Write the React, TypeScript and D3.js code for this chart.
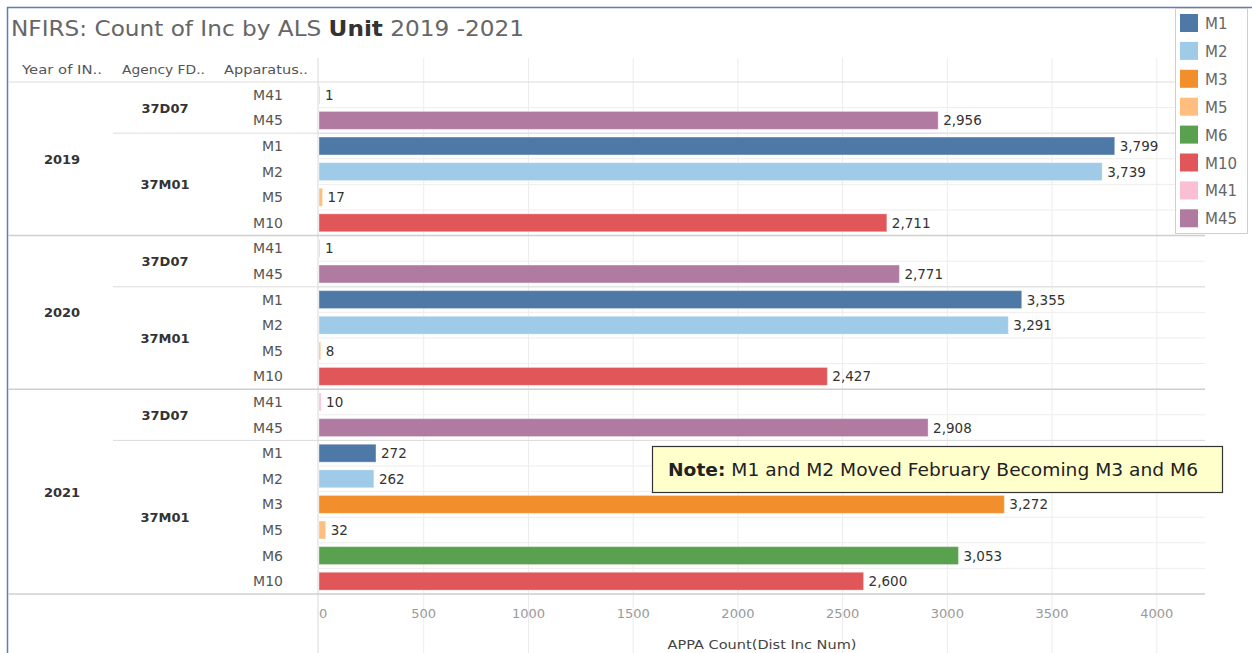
import React from "react";
import * as d3 from "d3";

// rows in display order
const years = ["2019", "2019", "2019", "2019", "2019", "2019", "2020", "2020", "2020", "2020", "2020", "2020", "2021", "2021", "2021", "2021", "2021", "2021", "2021", "2021"];
const agencies = ["37D07", "37D07", "37M01", "37M01", "37M01", "37M01", "37D07", "37D07", "37M01", "37M01", "37M01", "37M01", "37D07", "37D07", "37M01", "37M01", "37M01", "37M01", "37M01", "37M01"];
const units = ["M41", "M45", "M1", "M2", "M5", "M10", "M41", "M45", "M1", "M2", "M5", "M10", "M41", "M45", "M1", "M2", "M3", "M5", "M6", "M10"];
const counts = [1, 2956, 3799, 3739, 17, 2711, 1, 2771, 3355, 3291, 8, 2427, 10, 2908, 272, 262, 3272, 32, 3053, 2600];

const legendUnits = ["M1", "M2", "M3", "M5", "M6", "M10", "M41", "M45"];
const legendColors = ["#4e79a7", "#a0cbe8", "#f28e2b", "#ffbe7d", "#59a14f", "#e15759", "#fabfd2", "#b07aa1"];
const xTicks = [0, 500, 1000, 1500, 2000, 2500, 3000, 3500, 4000];

const W = 1252;
const H = 653;
const plotLeft = 318;
const plotRight = 1205;
const rowTop = 82;
const rowH = 25.6;
const font = "'DejaVu Sans', 'Open Sans', sans-serif";

export default function App() {
  const x = d3.scaleLinear().domain([0, 4230]).range([plotLeft + 1, plotRight]);
  const idx = d3.range(units.length);
  const y = d3
    .scaleBand<number>()
    .domain(idx)
    .range([rowTop, rowTop + rowH * units.length])
    .paddingInner(0.3)
    .paddingOuter(0.15);
  const color = d3.scaleOrdinal<string, string>().domain(legendUnits).range(legendColors);
  const fmt = d3.format(",");
  const rowBottom = rowTop + rowH * units.length;

  // group spans
  const yearGroups = d3.groups(idx, (i) => years[i]).map(([k, v]) => ({ k, a: v[0], b: v[v.length - 1] }));
  const agencyGroups: { k: string; a: number; b: number }[] = [];
  idx.forEach((i) => {
    const last = agencyGroups[agencyGroups.length - 1];
    if (last && agencies[i] === agencies[last.b] && years[i] === years[last.b]) last.b = i;
    else agencyGroups.push({ k: agencies[i], a: i, b: i });
  });

  return (
    <svg width={W} height={H} style={{ position: "absolute", left: 0, top: 0, background: "#fff" }} fontFamily={font}>
      {/* outer frame */}
      <line x1={7} x2={W} y1={7.5} y2={7.5} stroke="#5b7db8" strokeWidth={1.5} />
      <line x1={7.5} x2={7.5} y1={7} y2={H} stroke="#5b7db8" strokeWidth={1.5} />

      <text x={11} y={36} fontSize={22} fill="#666" textLength={513} lengthAdjust="spacingAndGlyphs">
        NFIRS: Count of Inc by ALS <tspan fill="#333" fontWeight="bold">Unit</tspan> 2019 -2021
      </text>

      {/* headers */}
      <g fontSize={11.5} fill="#555">
        <text x={22} y={74} textLength={80} lengthAdjust="spacingAndGlyphs">Year of IN..</text>
        <text x={122} y={74} textLength={83} lengthAdjust="spacingAndGlyphs">Agency FD..</text>
        <text x={224} y={74} textLength={84} lengthAdjust="spacingAndGlyphs">Apparatus..</text>
      </g>

      {/* vertical grid */}
      {xTicks.slice(1).map((t) => (
        <line key={t} x1={x(t)} x2={x(t)} y1={58} y2={H} stroke="#ececec" />
      ))}
      <line x1={plotLeft} x2={plotLeft} y1={58} y2={H} stroke="#d8d8d8" />

      {/* row lines in plot */}
      {idx.map((i) => (
        <line key={i} x1={plotLeft} x2={plotRight} y1={rowTop + rowH * (i + 1)} y2={rowTop + rowH * (i + 1)} stroke="#ededed" />
      ))}
      <line x1={8} x2={plotRight} y1={rowTop} y2={rowTop} stroke="#dcdcdc" />
      {agencyGroups.slice(0, -1).map((g) => {
        const yy = rowTop + rowH * (g.b + 1);
        const isYear = years[g.b] !== years[g.b + 1];
        return <line key={"ag" + g.a} x1={isYear ? 8 : 113} x2={plotRight} y1={yy} y2={yy} stroke={isYear ? "#cfcfcf" : "#dcdcdc"} strokeWidth={isYear ? 1.5 : 1} />;
      })}
      <line x1={8} x2={plotRight} y1={rowBottom} y2={rowBottom} stroke="#cfcfcf" strokeWidth={1.5} />

      {/* row headers */}
      {yearGroups.map((g) => (
        <text key={g.k} x={62} y={(rowTop + rowH * g.a + rowTop + rowH * (g.b + 1)) / 2 + 5} textAnchor="middle" fontSize={13} fontWeight="bold" fill="#333">
          {g.k}
        </text>
      ))}
      {agencyGroups.map((g) => (
        <text key={"a" + g.a} x={165} y={(rowTop + rowH * g.a + rowTop + rowH * (g.b + 1)) / 2 + 5} textAnchor="middle" fontSize={13} fontWeight="bold" fill="#333">
          {g.k}
        </text>
      ))}
      {idx.map((i) => (
        <text key={"u" + i} x={283} y={(y(i) as number) + y.bandwidth() / 2 + 5} textAnchor="end" fontSize={14} fill="#555">
          {units[i]}
        </text>
      ))}

      {/* bars */}
      {idx.map((i) => {
        const w = Math.max(1, x(counts[i]) - x(0));
        return (
          <g key={"b" + i}>
            <rect x={x(0)} y={y(i)} width={w} height={y.bandwidth()} fill={color(units[i])} stroke="#fff" strokeOpacity={0.35} />
            <text x={x(0) + w + 5} y={(y(i) as number) + y.bandwidth() / 2 + 5} fontSize={13.5} fill="#333">
              {fmt(counts[i])}
            </text>
          </g>
        );
      })}

      {/* x axis */}
      {xTicks.map((t) => (
        <text key={"t" + t} x={t === 0 ? x(t) : x(t)} y={618} textAnchor={t === 0 ? "start" : "middle"} fontSize={13} fill="#999">
          {t}
        </text>
      ))}
      <text x={762} y={649} textAnchor="middle" fontSize={13} fill="#444" textLength={189} lengthAdjust="spacingAndGlyphs">
        APPA Count(Dist Inc Num)
      </text>

      {/* note */}
      <rect x={652.5} y={446.5} width={570} height={46} fill="#ffffcc" stroke="#333" strokeWidth={1.2} />
      <text x={668} y={476} fontSize={18} fill="#222" textLength={530} lengthAdjust="spacingAndGlyphs">
        <tspan fontWeight="bold">Note:</tspan> M1 and M2 Moved February Becoming M3 and M6
      </text>

      {/* legend */}
      <rect x={1175.5} y={8.5} width={72} height={225} fill="#fff" stroke="#cfcfcf" />
      {legendUnits.map((u, i) => (
        <g key={u} transform={`translate(1180, ${14 + i * 27.9})`}>
          <rect width={18} height={18} fill={color(u)} />
          <text x={25} y={15} fontSize={15} fill="#666">
            {u}
          </text>
        </g>
      ))}
    </svg>
  );
}
